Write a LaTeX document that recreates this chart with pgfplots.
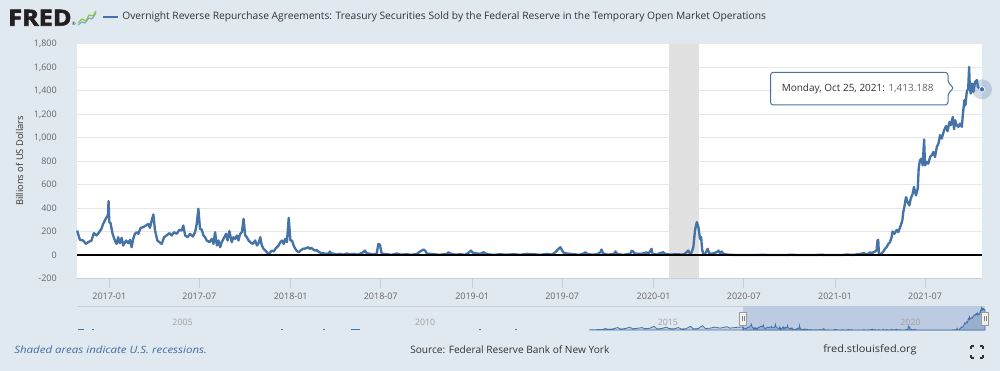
\documentclass[border=0pt]{standalone}
\usepackage{fontspec}
\setmainfont{Open Sans}
\newfontfamily\logofont{Open Sans}[BoldFeatures={FakeBold=2.5}]
\usepackage{pgfplots}
\pgfplotsset{compat=1.18}
\usepackage{pgfplotstable}
\definecolor{bg}{HTML}{E1E9F0}
\definecolor{fredblue}{HTML}{4572A7}
\definecolor{gridc}{HTML}{E6E6E6}
\definecolor{axc}{HTML}{C0D0E0}
\definecolor{txt}{HTML}{333333}
\definecolor{lbl}{HTML}{666666}
\definecolor{recess}{HTML}{E1E1E1}
\definecolor{navsel}{HTML}{BCCBE2}
\definecolor{navline}{HTML}{C8CCD4}
\definecolor{navlbl}{HTML}{A0A0A0}
\definecolor{fredblack}{HTML}{231F20}
\definecolor{foot}{HTML}{3E6BA6}
\definecolor{iconG}{HTML}{8DC63F}
\definecolor{iconB}{HTML}{7FA7D6}

\pgfplotstableread{
x y
2016.823 209
2016.828 181
2016.838 130
2016.856 124
2016.871 95
2016.884 110
2016.902 124
2016.915 187
2016.930 167
2016.944 195
2016.957 224
2016.966 266
2016.976 295
2016.985 323
2016.992 338
2016.996 460
2017.000 281
2017.007 272
2017.018 181
2017.031 124
2017.040 95
2017.049 152
2017.058 101
2017.068 147
2017.077 81
2017.092 124
2017.105 101
2017.114 130
2017.123 67
2017.132 138
2017.141 181
2017.151 195
2017.160 181
2017.173 232
2017.187 238
2017.202 252
2017.215 266
2017.224 232
2017.233 289
2017.243 346
2017.252 209
2017.265 124
2017.276 110
2017.289 95
2017.302 152
2017.316 167
2017.331 187
2017.344 167
2017.357 195
2017.372 181
2017.386 215
2017.399 209
2017.408 252
2017.418 167
2017.431 152
2017.445 181
2017.460 158
2017.473 195
2017.482 266
2017.491 395
2017.500 224
2017.510 215
2017.519 167
2017.528 152
2017.537 124
2017.552 110
2017.565 138
2017.574 95
2017.583 195
2017.593 81
2017.602 124
2017.611 67
2017.620 110
2017.629 138
2017.644 181
2017.652 124
2017.662 204
2017.675 110
2017.684 152
2017.694 138
2017.703 167
2017.712 124
2017.721 181
2017.731 195
2017.740 309
2017.749 167
2017.758 152
2017.768 124
2017.777 110
2017.791 95
2017.804 124
2017.814 81
2017.823 101
2017.832 152
2017.841 81
2017.850 53
2017.860 38
2017.869 24
2017.878 3
2017.887 24
2017.896 38
2017.906 30
2017.915 53
2017.924 67
2017.933 81
2017.943 110
2017.952 124
2017.961 95
2017.970 138
2017.979 110
2017.989 318
2017.998 124
2018.007 124
2018.016 81
2018.025 53
2018.035 33
2018.044 24
2018.053 38
2018.068 53
2018.087 58
2018.096 67
2018.105 53
2018.114 61
2018.124 47
2018.133 38
2018.142 44
2018.151 30
2018.160 24
2018.170 12
2018.179 19
2018.188 8
2018.197 13
2018.207 5
2018.216 30
2018.225 8
2018.234 13
2018.250 4
2018.271 10
2018.290 3
2018.308 13
2018.325 5
2018.345 10
2018.370 3
2018.400 24
2018.409 38
2018.418 16
2018.437 10
2018.455 4
2018.474 13
2018.483 95
2018.492 87
2018.501 13
2018.529 7
2018.555 2
2018.584 13
2018.610 3
2018.639 7
2018.665 2
2018.695 10
2018.713 30
2018.731 47
2018.741 38
2018.750 13
2018.787 7
2018.820 2
2018.860 10
2018.870 24
2018.879 13
2018.905 3
2018.934 7
2018.960 2
2018.980 19
2018.993 38
2019.004 19
2019.044 10
2019.063 24
2019.081 7
2019.120 2
2019.155 7
2019.190 3
2019.229 7
2019.265 2
2019.302 10
2019.339 7
2019.375 2
2019.413 10
2019.440 4
2019.459 24
2019.477 53
2019.486 67
2019.496 38
2019.505 19
2019.523 13
2019.560 7
2019.590 2
2019.615 13
2019.624 24
2019.634 10
2019.660 3
2019.689 7
2019.707 24
2019.713 47
2019.722 13
2019.750 3
2019.781 10
2019.790 30
2019.799 10
2019.830 2
2019.850 5
2019.873 13
2019.879 36
2019.888 30
2019.895 13
2019.925 10
2019.952 16
2019.961 24
2019.971 10
2019.989 53
2019.994 10
2020.017 4
2020.035 16
2020.053 24
2020.063 10
2020.090 4
2020.127 7
2020.164 4
2020.182 24
2020.191 38
2020.201 10
2020.210 24
2020.219 67
2020.228 209
2020.238 281
2020.247 238
2020.256 138
2020.262 152
2020.267 53
2020.274 4
2020.284 10
2020.293 38
2020.298 53
2020.306 16
2020.320 10
2020.348 24
2020.357 38
2020.366 16
2020.376 30
2020.385 10
2020.403 4
2020.440 1
2020.477 0
2020.520 1
2020.560 0
2020.600 2
2020.640 0
2020.680 1
2020.720 0
2020.760 2
2020.800 0
2020.840 1
2020.880 0
2020.920 2
2020.960 0
2021.000 1
2021.040 0
2021.066 4
2021.100 1
2021.140 10
2021.158 16
2021.177 4
2021.195 24
2021.204 10
2021.211 24
2021.220 30
2021.229 40
2021.234 124
2021.238 130
2021.242 10
2021.250 5
2021.258 16
2021.266 30
2021.275 53
2021.284 67
2021.294 95
2021.303 110
2021.312 152
2021.317 201
2021.327 181
2021.340 215
2021.349 195
2021.362 252
2021.371 295
2021.376 366
2021.382 409
2021.391 494
2021.400 452
2021.410 423
2021.417 480
2021.428 523
2021.435 580
2021.446 509
2021.456 566
2021.461 737
2021.468 808
2021.478 822
2021.483 765
2021.491 985
2021.496 765
2021.505 794
2021.514 779
2021.524 836
2021.533 851
2021.542 879
2021.551 836
2021.561 922
2021.570 950
2021.579 1022
2021.588 993
2021.601 1064
2021.612 1101
2021.620 1056
2021.631 1135
2021.638 1107
2021.649 1178
2021.656 1073
2021.662 1150
2021.671 1107
2021.680 1093
2021.689 1121
2021.699 1093
2021.704 1192
2021.713 1321
2021.719 1278
2021.726 1392
2021.734 1421
2021.739 1605
2021.743 1421
2021.748 1378
2021.756 1463
2021.763 1392
2021.772 1478
2021.782 1492
2021.787 1435
2021.796 1421
2021.804 1421
2021.810 1413.188
}\maindata

\pgfplotstableread{
x y
2013.66 3
2013.72 20
2013.78 10
2013.85 40
2013.92 20
2013.99 100
2014.05 40
2014.15 80
2014.24 170
2014.30 70
2014.40 100
2014.49 200
2014.55 80
2014.65 120
2014.74 170
2014.80 90
2014.90 120
2014.99 260
2015.05 80
2015.15 100
2015.24 200
2015.30 100
2015.40 80
2015.49 170
2015.55 70
2015.65 90
2015.74 260
2015.80 80
2015.90 100
2015.99 300
2016.05 100
2016.15 130
2016.24 200
2016.35 130
2016.49 230
2016.55 130
2016.65 170
2016.75 200
2016.822 209
}\navdata

\begin{document}
\begin{tikzpicture}[x=0.75pt,y=0.75pt]
\fill[bg] (0,0) rectangle (1000,371);
\path[use as bounding box] (0,0) rectangle (1000,371);

% header
\node[anchor=south west, inner sep=0pt, text=fredblack] at (8,345) {\resizebox{47.5pt}{12pt}{\logofont\bfseries FRED}};
\node[anchor=center, inner sep=0pt, text=fredblack, font=\fontsize{3.5}{4}\selectfont] at (73.8,347.5) {®};
\draw[iconB, line width=0.9pt, line join=round] (78,346) -- (82,349) -- (85,348) -- (89,353) -- (92,352) -- (96,358);
\draw[iconG, line width=0.9pt, line join=round] (78,348) -- (82,352) -- (86,350) -- (89,356) -- (93,355) -- (96,360);
\draw[fredblue, line width=1.3pt] (103,354) -- (118,354);
\node[anchor=west, inner sep=0pt, text=txt, font=\fontsize{7.7}{9}\selectfont] at (122,354) {Overnight Reverse Repurchase Agreements: Treasury Securities Sold by the Federal Reserve in the Temporary Open Market Operations};

% y label
\node[rotate=90, inner sep=0pt, text=txt, font=\fontsize{7}{8}\selectfont] at (19.5,210) {Billions of US Dollars};

% main axis
\begin{axis}[
  at={(57.75pt,69.375pt)}, anchor=south west, scale only axis,
  width=678.75pt, height=175.9pt,
  xmin=2016.822, xmax=2021.810, ymin=-200, ymax=1800,
  axis background/.style={fill=white},
  separate axis lines,
  axis x line*=bottom, axis y line*=left,
  x axis line style={draw=axc, line width=0.75pt},
  y axis line style={draw=none},
  ytick={-200,0,200,400,600,800,1000,1200,1400,1600,1800},
  yticklabels={-200,0,200,400,600,800,{1,000},{1,200},{1,400},{1,600},{1,800}},
  ymajorgrids, grid style={draw=gridc, line width=0.75pt},
  ytick style={draw=none},
  xtick={2017,2017.496,2018,2018.496,2019,2019.496,2020,2020.497,2021,2021.496},
  xticklabels={2017-01,2017-07,2018-01,2018-07,2019-01,2019-07,2020-01,2020-07,2021-01,2021-07},
  xtick style={draw=axc, line width=0.75pt},
  tick align=outside, major tick length=7.5pt,
  tick label style={font=\fontsize{6.75}{8}\selectfont, text=lbl},
  yticklabel style={anchor=east, inner sep=0pt, xshift=-7.5pt},
  xticklabel style={anchor=north, inner sep=0pt, yshift=-3.2pt},
  clip=false,
]
\fill[recess] (axis cs:2020.085,-200) rectangle (axis cs:2020.249,1800);
\addplot[fredblue, line width=1.75pt, line join=round] table {\maindata};
\addplot[black, line width=1.5pt] coordinates {(2016.822,0) (2021.810,0)};
\addplot[only marks, mark=*, mark size=7.5pt, fredblue, fill opacity=0.25, draw opacity=0] coordinates {(2021.810,1413.188)};
\addplot[only marks, mark=*, mark size=2pt, fredblue, draw=white, line width=0.4pt] coordinates {(2021.810,1413.188)};
\end{axis}

% tooltip
\draw[fredblue, line width=0.75pt, fill=white, fill opacity=0.9, rounded corners=2.2pt]
  (770.5,266) -- (948,266) -- (948,277.7) -- (954,283) -- (948,288.3) -- (948,298.7) -- (770.5,298.7) -- cycle;
\node[anchor=west, inner sep=0pt, font=\fontsize{7.5}{9}\selectfont] at (781.5,282.5) {\textcolor{txt}{Monday, Oct 25, 2021:} \textcolor{lbl}{1,413.188}};

% navigator
\begin{axis}[
  at={(57.75pt,30.75pt)}, anchor=south west, scale only axis,
  width=681pt, height=17.25pt,
  xmin=2003.1, xmax=2021.81, ymin=0, ymax=1605,
  axis lines=none, ticks=none, clip=false,
]
\fill[navsel] (axis cs:2016.822,-80) rectangle (axis cs:2021.81,1640);
\draw[navline, line width=0.75pt] (axis cs:2003.1,1640) -- (axis cs:2016.822,1640);
\addplot[fredblue, line width=0.9pt] coordinates {(2003.12,8) (2003.24,8)};
\addplot[fredblue, line width=0.9pt] coordinates {(2003.41,8) (2003.45,8)};
\addplot[fredblue, line width=0.9pt] coordinates {(2007.30,8) (2007.34,8)};
\addplot[fredblue, line width=0.9pt] coordinates {(2008.17,8) (2008.21,8)};
\addplot[fredblue, line width=0.9pt] coordinates {(2008.75,12) (2008.93,12)};
\addplot[fredblue, line width=0.9pt] coordinates {(2011.38,8) (2011.42,8)};
\addplot[fredblue, line width=0.9pt] coordinates {(2012.13,8) (2012.17,8)};
\addplot[fredblue, line width=0.6pt, fill=fredblue, fill opacity=0.2] table {\navdata} \closedcycle;
\addplot[fredblue, line width=0.6pt, fill=fredblue, fill opacity=0.3] table {\maindata} \closedcycle;
\node[anchor=west, inner sep=0pt, text=navlbl, font=\fontsize{6.6}{7}\selectfont, xshift=2.25pt] at (axis cs:2005,560) {2005};
\node[anchor=west, inner sep=0pt, text=navlbl, font=\fontsize{6.6}{7}\selectfont, xshift=2.25pt] at (axis cs:2010,560) {2010};
\node[anchor=west, inner sep=0pt, text=navlbl, font=\fontsize{6.6}{7}\selectfont, xshift=2.25pt] at (axis cs:2015,560) {2015};
\node[anchor=west, inner sep=0pt, text=navlbl, font=\fontsize{6.6}{7}\selectfont, xshift=2.25pt] at (axis cs:2020,560) {2020};
\node[draw=gray!80, fill=gray!12, line width=0.5pt, minimum width=5pt, minimum height=10pt, inner sep=0pt] at (axis cs:2016.822,800) {\textcolor{gray}{\rule{0.4pt}{4pt}\hspace{0.9pt}\rule{0.4pt}{4pt}}};
\node[draw=gray!80, fill=gray!12, line width=0.5pt, minimum width=5pt, minimum height=10pt, inner sep=0pt] at (axis cs:2021.81,800) {\textcolor{gray}{\rule{0.4pt}{4pt}\hspace{0.9pt}\rule{0.4pt}{4pt}}};
\end{axis}

% footer
\node[anchor=west, inner sep=0pt, text=foot, font=\fontsize{7.5}{8}\itshape] at (14,21) {\scalebox{1.15}[1]{Shaded areas indicate U.S. recessions.}};
\node[anchor=west, inner sep=0pt, text=txt, font=\fontsize{7.6}{8}\selectfont] at (410,21) {Source: Federal Reserve Bank of New York};
\node[anchor=west, inner sep=0pt, text=txt, font=\fontsize{7.6}{8}\selectfont] at (823,21) {\scalebox{1.08}[1]{fred.stlouisfed.org}};
\draw[txt, line width=0.9pt] (971,13) -- (971,16) (971,13) -- (974,13)
  (980,13) -- (983,13) (983,13) -- (983,16)
  (971,22) -- (971,25) (971,25) -- (974,25)
  (980,25) -- (983,25) (983,25) -- (983,22);
\end{tikzpicture}
\end{document}
